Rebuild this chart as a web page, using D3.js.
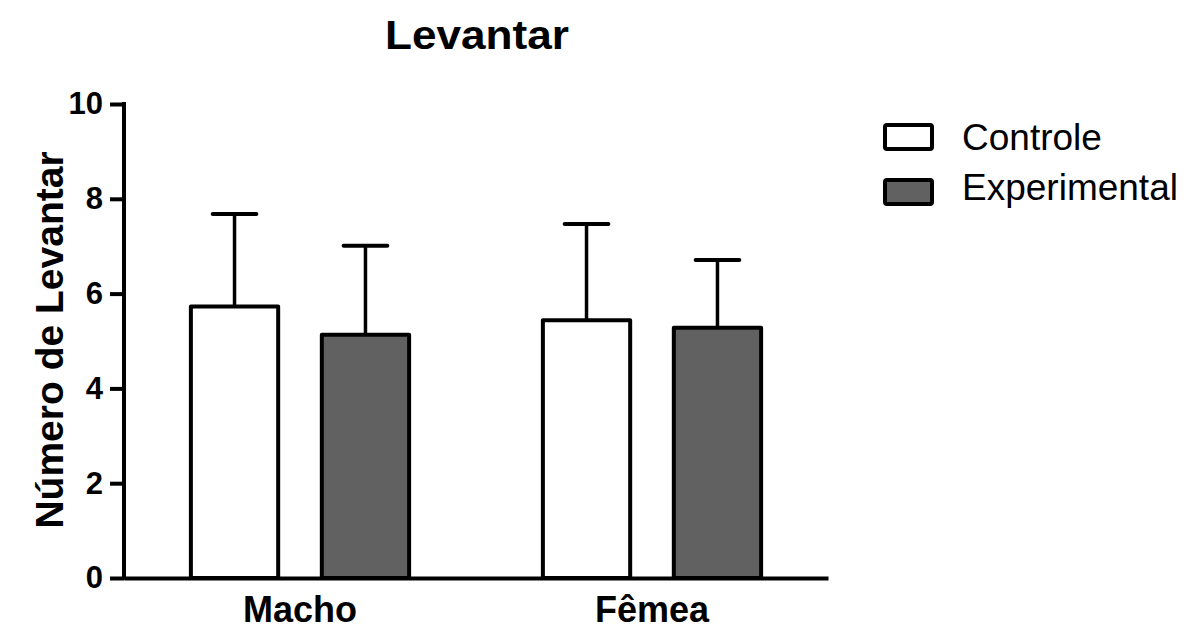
<!DOCTYPE html>
<html>
<head>
<meta charset="utf-8">
<script src="https://cdn.jsdelivr.net/npm/d3@7"></script>
<style>
  body { margin: 0; background: #fff; }
  svg text { font-family: "Liberation Sans", Arial, sans-serif; }
</style>
</head>
<body>
<div id="chart"></div>
<script>
// data
var groups = ['Macho', 'Fêmea'];
var series = ['Controle', 'Experimental'];
var means = [[5.73, 5.13], [5.44, 5.28]];   // [group][series]
var errors = [[1.95, 1.88], [2.03, 1.43]];
var yTicks = [0, 2, 4, 6, 8, 10];
var fills = ['#ffffff', '#616161'];

var width = 1189, height = 630;
var plotLeft = 124, plotRight = 828, plotTop = 104, plotBottom = 578;

var svg = d3.select('#chart').append('svg')
  .attr('width', width)
  .attr('height', height);

var y = d3.scaleLinear().domain([0, 10]).range([plotBottom, plotTop]);

var x0 = d3.scaleBand()
  .domain(groups)
  .range([plotLeft, plotRight])
  .paddingInner(0.38)
  .paddingOuter(0.19);

var x1 = d3.scaleBand()
  .domain(series)
  .range([0, x0.bandwidth()])
  .paddingInner(1 / 3);

// title
svg.append('text')
  .attr('x', 477).attr('y', 49)
  .attr('text-anchor', 'middle')
  .attr('font-size', 40).attr('font-weight', 'bold')
  .attr('textLength', 184).attr('lengthAdjust', 'spacingAndGlyphs')
  .text('Levantar');

// y axis label
svg.append('text')
  .attr('transform', 'translate(63,340) rotate(-90)')
  .attr('text-anchor', 'middle')
  .attr('font-size', 39).attr('font-weight', 'bold')
  .text('Número de Levantar');

// bars
var g = svg.selectAll('.grp')
  .data(groups)
  .enter().append('g')
  .attr('class', 'grp')
  .attr('transform', function(d) { return 'translate(' + x0(d) + ',0)'; });

var rows = g.selectAll('.bar')
  .data(function(d, i) {
    return series.map(function(s, j) {
      return {s: s, j: j, v: means[i][j], e: errors[i][j]};
    });
  })
  .enter().append('g');

// error bars (upper only)
rows.append('line')
  .attr('x1', function(d) { return x1(d.s) + x1.bandwidth() / 2; })
  .attr('x2', function(d) { return x1(d.s) + x1.bandwidth() / 2; })
  .attr('y1', function(d) { return y(d.v); })
  .attr('y2', function(d) { return y(d.v + d.e); })
  .attr('stroke', '#000').attr('stroke-width', 3.5);

rows.append('line')
  .attr('x1', function(d) { return x1(d.s) + x1.bandwidth() / 4; })
  .attr('x2', function(d) { return x1(d.s) + x1.bandwidth() * 3 / 4; })
  .attr('y1', function(d) { return y(d.v + d.e); })
  .attr('y2', function(d) { return y(d.v + d.e); })
  .attr('stroke', '#000').attr('stroke-width', 4)
  .attr('stroke-linecap', 'round');

rows.append('rect')
  .attr('x', function(d) { return x1(d.s); })
  .attr('y', function(d) { return y(d.v); })
  .attr('width', x1.bandwidth())
  .attr('height', function(d) { return y(0) - y(d.v); })
  .attr('fill', function(d) { return fills[d.j]; })
  .attr('stroke', '#000').attr('stroke-width', 4)
  .attr('stroke-linejoin', 'round');

// y axis
var yAxis = d3.axisLeft(y)
  .tickValues(yTicks)
  .tickSize(14)
  .tickSizeOuter(0)
  .tickPadding(7);

var ya = svg.append('g')
  .attr('transform', 'translate(' + plotLeft + ',0)')
  .call(yAxis);
ya.select('.domain').attr('stroke-width', 4)
  .attr('d', 'M0,' + (plotTop - 2) + 'V' + (plotBottom + 2));
ya.selectAll('.tick line').attr('stroke-width', 4);
ya.selectAll('.tick text')
  .attr('font-size', 31).attr('font-weight', 'bold')
  .attr('fill', '#000')
  .attr('font-family', '"Liberation Sans", Arial, sans-serif');

// x axis
var xAxis = d3.axisBottom(x0).tickSize(0).tickSizeOuter(0).tickPadding(18);
var xa = svg.append('g')
  .attr('transform', 'translate(0,' + plotBottom + ')')
  .call(xAxis);
xa.select('.domain').attr('stroke-width', 4);
xa.selectAll('.tick text')
  .attr('font-size', 36).attr('font-weight', 'bold')
  .attr('fill', '#000')
  .attr('font-family', '"Liberation Sans", Arial, sans-serif');

// legend
var leg = svg.selectAll('.leg')
  .data(series)
  .enter().append('g')
  .attr('class', 'leg');

leg.append('rect')
  .attr('x', 885)
  .attr('y', function(d, i) { return 125 + i * 55; })
  .attr('width', 47).attr('height', 24)
  .attr('fill', function(d, i) { return fills[i]; })
  .attr('stroke', '#000').attr('stroke-width', 4)
  .attr('rx', 2);

leg.append('text')
  .attr('x', 962)
  .attr('y', function(d, i) { return 150 + i * 50; })
  .attr('font-size', 37)
  .text(function(d) { return d; });
</script>
</body>
</html>
